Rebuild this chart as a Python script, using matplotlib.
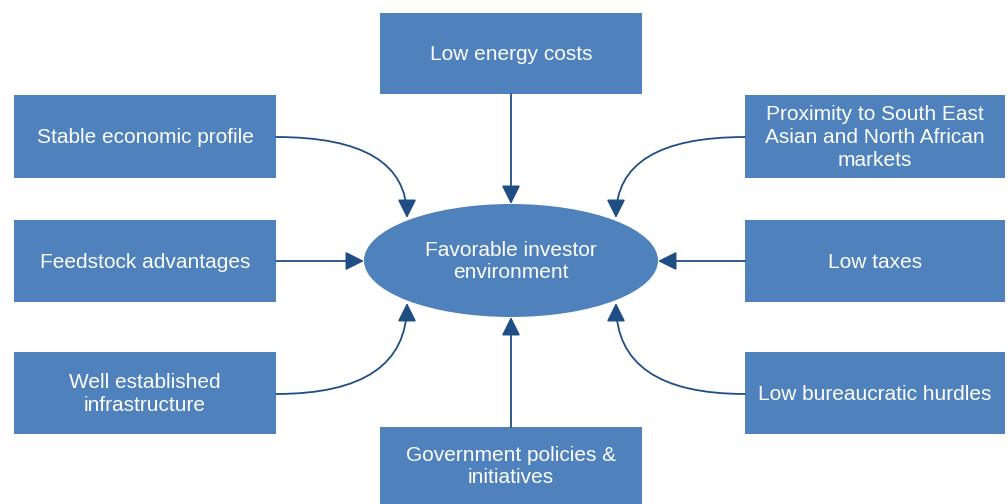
import matplotlib
matplotlib.use("Agg")
import matplotlib.pyplot as plt
from matplotlib.patches import Rectangle, Ellipse, FancyArrowPatch

# ---- content ----
center_label = "Favorable investor\nenvironment"
left_labels = ["Stable economic profile", "Feedstock advantages", "Well established\ninfrastructure"]
right_labels = ["Proximity to South East\nAsian and North African\nmarkets", "Low taxes", "Low bureaucratic hurdles"]
top_label = "Low energy costs"
bottom_label = "Government policies &\ninitiatives"

BOX = "#4F81BD"
ARROW = "#1F4E85"
TXT = "white"
FONT = ["Liberation Sans", "DejaVu Sans"]
FS = 15
LS = 1.24

fig = plt.figure(figsize=(10.08, 5.04), dpi=100)
ax = fig.add_axes([0, 0, 1, 1])
ax.set_xlim(0, 1008)
ax.set_ylim(504, 0)
ax.axis("off")

def box(x0, y0, x1, y1, text):
    ax.add_patch(Rectangle((x0, y0), x1 - x0, y1 - y0, facecolor=BOX, edgecolor="none", zorder=2))
    ax.text((x0 + x1) / 2, (y0 + y1) / 2 + 1, text, ha="center", va="center", color=TXT,
            fontsize=FS, family=FONT, linespacing=LS, zorder=3)

def arrow(p0, p1, style="arc3,rad=0"):
    a = FancyArrowPatch(p0, p1, connectionstyle=style,
                        arrowstyle="-|>,head_length=0.8,head_width=0.4",
                        mutation_scale=14, color=ARROW, lw=1.3,
                        shrinkA=0, shrinkB=0, zorder=4)
    ax.add_patch(a)

# center ellipse
cx, cy, ew, eh = 511, 260.5, 294, 113
ax.add_patch(Ellipse((cx, cy), ew, eh, facecolor=BOX, edgecolor="none", zorder=2))
ax.text(cx, cy + 1, center_label, ha="center", va="center", color=TXT, fontsize=FS,
        family=FONT, linespacing=LS, zorder=3)

# left and right boxes
rows = [(95, 178), (220, 302), (352, 434)]
for (y0, y1), lab in zip(rows, left_labels):
    box(14, y0, 276, y1, lab)
for (y0, y1), lab in zip(rows, right_labels):
    box(745, y0, 1005, y1, lab)

# top / bottom boxes
box(380, 13, 642, 94, top_label)
box(380, 427, 642, 504, bottom_label)

# arrows
arrow((511, 94), (511, cy - eh / 2))
arrow((511, 427), (511, cy + eh / 2))
arrow((276, 261), (cx - ew / 2, 261))
arrow((745, 261), (cx + ew / 2, 261))
arrow((276, 137), (407, 218), "angle3,angleA=0,angleB=90")
arrow((276, 394), (407, 303), "angle3,angleA=0,angleB=90")
arrow((745, 137), (616, 218), "angle3,angleA=0,angleB=90")
arrow((745, 394), (616, 303), "angle3,angleA=0,angleB=90")

fig.savefig("out.png", dpi=100, facecolor="white")
